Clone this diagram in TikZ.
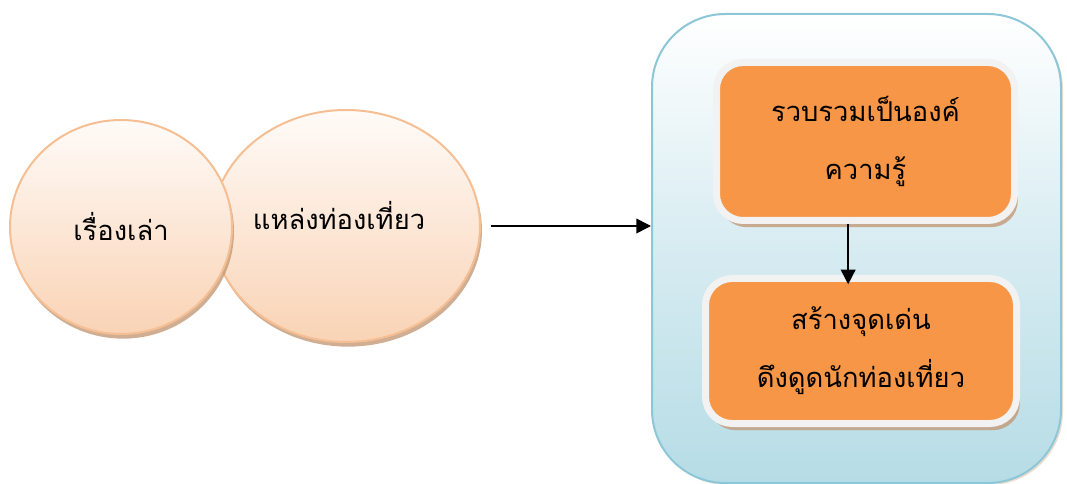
\documentclass[tikz,border=0pt]{standalone}
\usepackage{fontspec}
\newfontfamily\thaifont[Script=Thai]{Loma}
\usetikzlibrary{shapes.geometric,shadows,arrows.meta}
\definecolor{peachline}{HTML}{F6BE93}
\definecolor{peachlow}{HTML}{F9D3B5}
\definecolor{peachtop}{HTML}{FFFBF8}
\definecolor{bluelow}{HTML}{B6DCE6}
\definecolor{blueline}{HTML}{8DC7D7}
\definecolor{boxorange}{HTML}{F79646}
\definecolor{boxrim}{HTML}{F2F2F2}
\definecolor{shade}{HTML}{C49A78}
\begin{document}
\begin{tikzpicture}[x=0.75pt,y=-0.75pt,
  thai/.style={font=\thaifont\fontsize{20.5}{43.5}\selectfont, align=center},
  bubble/.style={ellipse, thai, draw=peachline, line width=1.5pt,
    top color=peachtop, bottom color=peachlow,
    drop shadow={shadow xshift=1.5pt, shadow yshift=-3.5pt, fill=shade, opacity=0.8}},
  frame/.style={rounded corners=55pt, draw=blueline, line width=1.5pt,
    top color=white, bottom color=bluelow, middle color=white!45!bluelow,
    drop shadow={shadow xshift=1.5pt, shadow yshift=-1.5pt, fill=shade, opacity=0.35}},
  stepbox/.style={rounded corners=20pt, thai, draw=boxrim, line width=5.25pt,
    fill=boxorange,
    drop shadow={shadow xshift=2.5pt, shadow yshift=-5pt, fill=shade, opacity=0.8}},
  arrow/.style={-{Triangle[length=11pt,width=11pt]}, line width=1.2pt}]
  % Parameters
  \def\px{0.75pt}
  \useasboundingbox (0,0) rectangle (1067,484);

  % Stories and places
  \node[bubble, minimum width=268*\px, minimum height=232*\px] (place) at (346,226) {};
  \node[thai] (placetext) at (339,216) {แหล่งท่องเที่ยว};
  \node[bubble, minimum width=222*\px, minimum height=214*\px] (story) at (121,227) {เรื่องเล่า};

  % Outcome frame
  \node[frame, minimum width=409*\px, minimum height=469*\px] (outcome) at (856.5,248.5) {};

  % Steps
  \node[stepbox, minimum width=298*\px, minimum height=158*\px] (know) at (865.5,141.5)
    {รวบรวมเป็นองค์\\ความรู้};
  \node[stepbox, minimum width=311*\px, minimum height=145*\px] (spot) at (861,351)
    {สร้างจุดเด่น\\ดึงดูดนักท่องเที่ยว};

  % Arrows
  \draw[arrow] ([xshift=10*\px]place.east) -- (place.east -| outcome.west);
  \draw[arrow] ([xshift=-13pt]know.south) -- ([xshift=-13pt,yshift=-7pt]know.south |- spot.north);
\end{tikzpicture}
\end{document}
